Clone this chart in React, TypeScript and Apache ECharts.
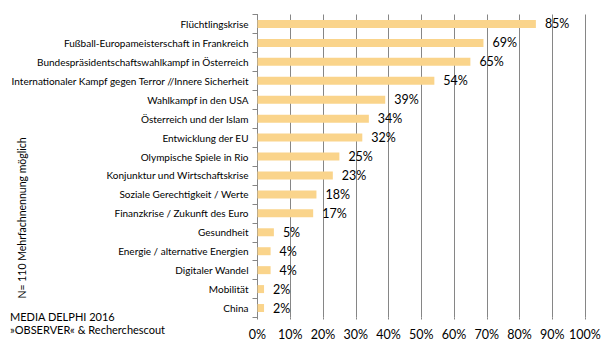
import React, { useEffect, useRef } from "react";
import * as echarts from "echarts";

const categories = [
  "Flüchtlingskrise",
  "Fußball-Europameisterschaft in Frankreich",
  "Bundespräsidentschaftswahlkampf in Österreich",
  "Internationaler Kampf gegen Terror //Innere Sicherheit",
  "Wahlkampf in den USA",
  "Österreich und der Islam",
  "Entwicklung der EU",
  "Olympische Spiele in Rio",
  "Konjunktur und Wirtschaftskrise",
  "Soziale Gerechtigkeit / Werte",
  "Finanzkrise / Zukunft des Euro",
  "Gesundheit",
  "Energie / alternative Energien",
  "Digitaler Wandel",
  "Mobilität",
  "China",
];
const values = [85, 69, 65, 54, 39, 34, 32, 25, 23, 18, 17, 5, 4, 4, 2, 2];
const axisTitle = "N= 110 Mehrfachnennung möglich";
const sourceLines = ["MEDIA DELPHI 2016", "»OBSERVER« & Recherchescout"];

const FONT = "Lato, sans-serif";

export default function App() {
  const ref = useRef<HTMLDivElement>(null);
  useEffect(() => {
    const chart = echarts.init(ref.current!, null, { renderer: "svg" });
    chart.setOption({
      animation: false,
      grid: { left: 257.5, right: 24, top: 14.5, bottom: 38.5, containLabel: false },
      xAxis: {
        type: "value",
        min: 0,
        max: 100,
        interval: 10,
        axisLine: { show: false },
        axisTick: { show: true, length: 2, lineStyle: { color: "#868686" } },
        splitLine: { show: true, lineStyle: { color: "#868686", width: 1 } },
        axisLabel: {
          formatter: "{value}%",
          color: "#000",
          fontSize: 12.5,
          fontFamily: FONT,
          margin: 10,
        },
      },
      yAxis: {
        type: "category",
        data: categories,
        inverse: true,
        axisLine: { show: true, lineStyle: { color: "#868686" } },
        axisTick: { show: true, length: 5, inside: false, lineStyle: { color: "#868686" } },
        axisLabel: { color: "#000", fontSize: 10, fontFamily: FONT, margin: 9 },
      },
      series: [
        {
          type: "bar",
          data: values,
          barWidth: 8,
          itemStyle: { color: "#FAD48B" },
          label: {
            show: true,
            position: "right",
            distance: 9,
            formatter: "{c}%",
            color: "#000",
            fontSize: 12.5,
            fontFamily: FONT,
          },
        },
      ],
      graphic: [
        {
          type: "text",
          x: 22,
          y: 218,
          rotation: Math.PI / 2,
          style: {
            text: axisTitle,
            fontSize: 10.5,
            fontFamily: FONT,
            fill: "#000",
            align: "center",
            verticalAlign: "middle",
          },
        },
        {
          type: "text",
          left: 10,
          top: 311,
          style: { text: sourceLines[0], fontSize: 11, fontFamily: FONT, fill: "#000" },
        },
        {
          type: "text",
          left: 10,
          top: 324,
          style: { text: sourceLines[1], fontSize: 11, fontFamily: FONT, fill: "#000" },
        },
      ],
    });
    return () => chart.dispose();
  }, []);
  return <div ref={ref} style={{ width: 609, height: 356, margin: -8 }} />;
}
